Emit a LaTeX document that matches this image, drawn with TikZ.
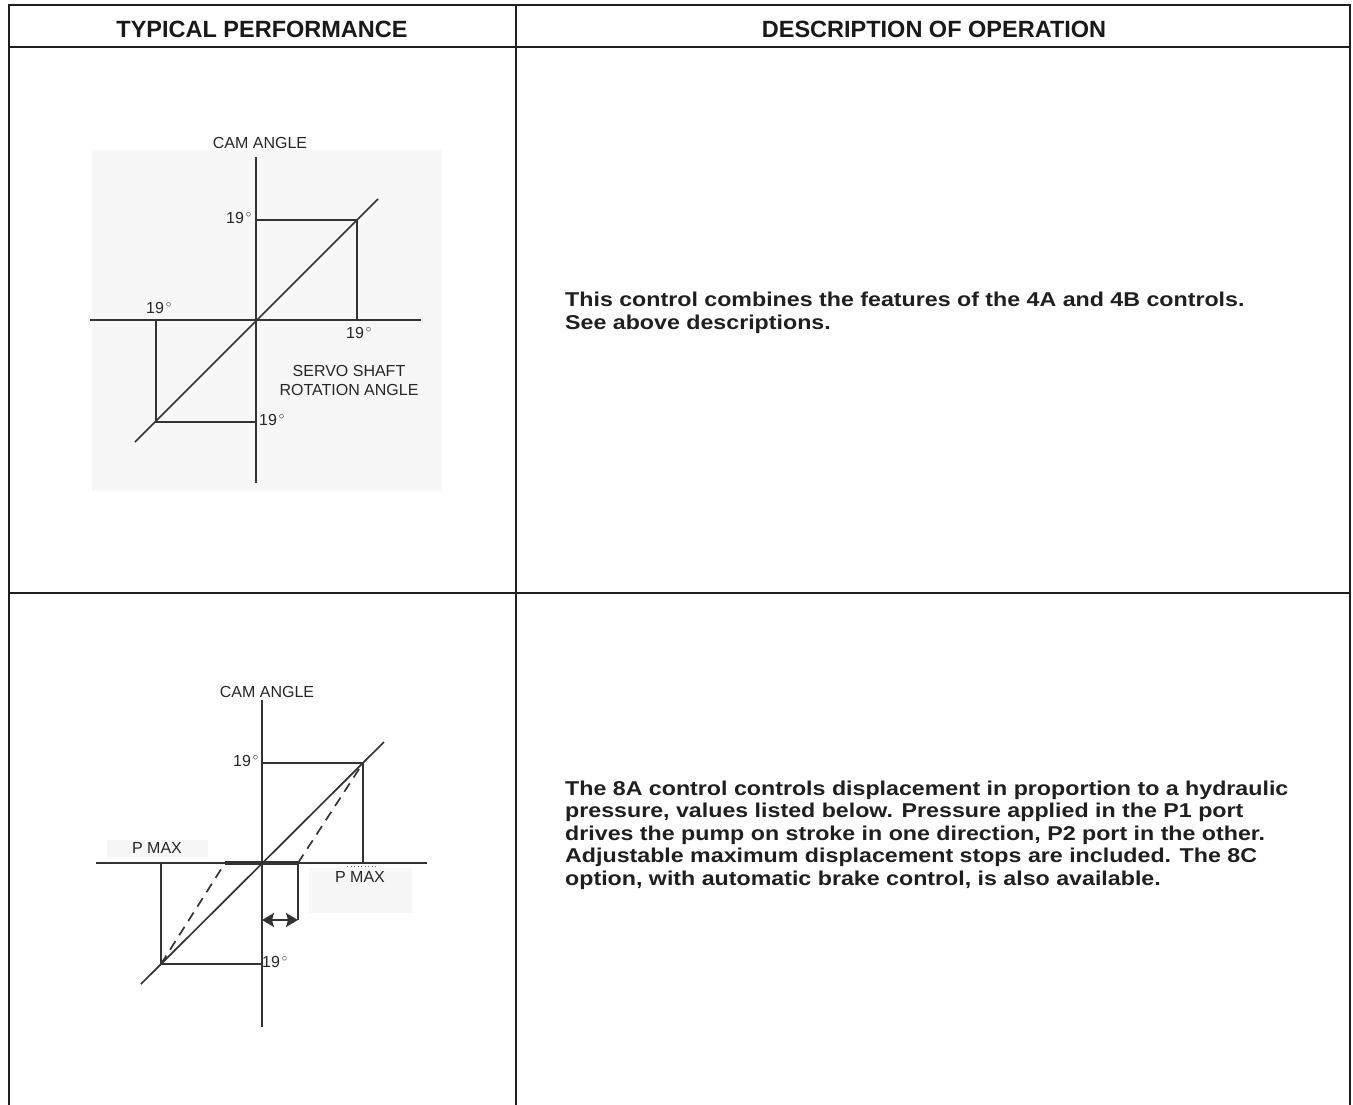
\documentclass[tikz,border=0pt]{standalone}
\usepackage{fontspec}
\setmainfont{Liberation Sans}
\newfontfamily\descfont[FakeStretch=1.16]{Liberation Sans}
\usetikzlibrary{arrows.meta}

\begin{document}
\begin{tikzpicture}[x=1pt, y=-1pt,
  rule/.style={line width=2.6pt, black!88},
  plotline/.style={line width=1.7pt, black!80},
  lbl/.style={font=\fontsize{16}{19}\selectfont, text=black!85, inner sep=1pt, align=center},
  head/.style={font=\bfseries\fontsize{23.5}{26}\selectfont, text=black!90},
  desc/.style={font=\descfont\bfseries\fontsize{20}{22.5}\selectfont, text=black!88, align=left, anchor=west, inner sep=0pt}]
\useasboundingbox (0,0) rectangle (1353,1105);
% Table rules
\draw[rule] (9,1105) -- (9,5) -- (1350,5) -- (1350,1105);
\draw[rule] (9,47) -- (1350,47);
\draw[rule] (9,593) -- (1350,593);
\draw[rule] (516,5) -- (516,1105);
% Headings
\node[head] (hperf) at (262,29) {TYPICAL PERFORMANCE};
\node[head] (hdesc) at (934,29) {DESCRIPTION OF OPERATION};

% Control 4 graph
\fill[black!3] (92,150) rectangle (442,491);
\begin{scope}[shift={(256,320)}]
  \draw[plotline] (0,-163) -- (0,163);
  \draw[plotline] (-166,0) -- (165,0);
  \draw[plotline] (-121,122) -- (122,-121);
  \draw[plotline] (0,-100) -- (101,-100) -- (101,0);
  \draw[plotline] (-100,0) -- (-100,102) -- (0,102);
  \node[lbl] (cam1) at (4,-177) {CAM ANGLE};
  \node[lbl] (deg1a) at (-17,-102) {19\textsuperscript{\,$\circ$}};
  \node[lbl] (deg1b) at (-97,-12) {19\textsuperscript{\,$\circ$}};
  \node[lbl] (deg1c) at (103,13) {19\textsuperscript{\,$\circ$}};
  \node[lbl] (deg1d) at (16,100) {19\textsuperscript{\,$\circ$}};
  \node[lbl] (servo) at (93,60) {SERVO SHAFT\\ROTATION ANGLE};
\end{scope}
\node[desc] (desc4) at (565,313) {This control combines the features of the 4A and 4B controls.\\See above descriptions.};

% Control 8 graph
\begin{scope}[shift={(262,863)}]
  \fill[black!3] (-155,-23) rectangle (-54,-5);
  \fill[black!3] (47,5) rectangle (150,50);
  \draw[plotline] (0,-163) -- (0,164);
  \draw[plotline] (-166,0) -- (165,0);
  \draw[plotline] (-121,121) -- (122,-121);
  \draw[plotline] (0,-100) -- (101,-100) -- (101,0);
  \draw[plotline] (-101,0) -- (-101,101) -- (0,101);
  \draw[plotline, dash pattern=on 10pt off 7pt] (-101,101) -- (-37,0);
  \draw[plotline, dash pattern=on 10pt off 7pt] (36,0) -- (101,-100);
  \draw[line width=4pt, black!80] (-37,0) -- (36,0);
  \draw[plotline] (36,0) -- (36,57);
  \draw[plotline, {Stealth[length=12pt,width=14pt,inset=2pt]}-{Stealth[length=12pt,width=14pt,inset=2pt]}] (0,57) -- (36,57);
  \draw[black!60, line width=0.8pt, dash pattern=on 1pt off 2.5pt] (85,3) -- (116,3);
  \node[lbl] (cam2) at (5,-171) {CAM ANGLE};
  \node[lbl] (deg2a) at (-16,-102) {19\textsuperscript{\,$\circ$}};
  \node[lbl] (deg2b) at (13,99) {19\textsuperscript{\,$\circ$}};
  \node[lbl] (pmaxl) at (-105,-15) {P MAX};
  \node[lbl] (pmaxr) at (98,14) {P MAX};
\end{scope}
\node[desc] (desc8) at (565,835) {The 8A control controls displacement in proportion to a hydraulic\\pressure, values listed below. Pressure applied in the P1 port\\drives the pump on stroke in one direction, P2 port in the other.\\Adjustable maximum displacement stops are included. The 8C\\option, with automatic brake control, is also available.};
\end{tikzpicture}
\end{document}
